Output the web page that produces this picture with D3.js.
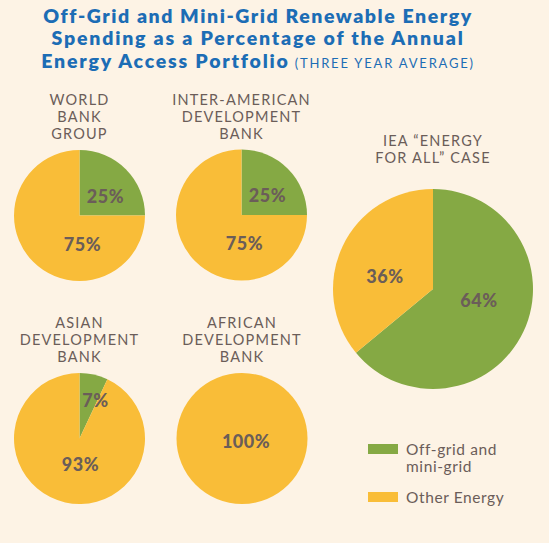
<!DOCTYPE html>
<html><head><meta charset="utf-8">
<script src="https://cdn.jsdelivr.net/npm/d3@7"></script>
<style>
html,body{margin:0;padding:0;background:#fdf3e5;}
svg{display:block;}
</style></head>
<body>
<svg id="chart" width="549" height="543"></svg>
<script>
const titleLines = ["Off-Grid and Mini-Grid Renewable Energy", "Spending as a Percentage of the Annual", "Energy Access Portfolio"];
const titleSuffix = "(THREE YEAR AVERAGE)";
const institutions = ["World Bank Group", "Inter-American Development Bank", "Asian Development Bank", "African Development Bank", "IEA \u201cEnergy for All\u201d Case"];
const institutionLabels = [["WORLD","BANK","GROUP"],["INTER-AMERICAN","DEVELOPMENT","BANK"],["ASIAN","DEVELOPMENT","BANK"],["AFRICAN","DEVELOPMENT","BANK"],["IEA \u201cENERGY","FOR ALL\u201d CASE"]];
const offGridValues = [25, 25, 7, 0, 64];
const otherEnergyValues = [75, 75, 93, 100, 36];
const seriesNames = ["Off-grid and mini-grid", "Other Energy"];
const legendLabels = [["Off-grid and","mini-grid"],["Other Energy"]];

const colors = ["#85a944", "#f9bd38"];
const textColor = "#6b5d59";
const FONT = "Lato, 'Open Sans', sans-serif";

// layout (positions only)
const layout = [
  {cx:79.5, cy:215.5, r:65.5, labelY:105, labelPos:[[26,-20],[3,28]]},
  {cx:241.5, cy:215, r:65.5, labelY:105, labelPos:[[26,-20],[3,28]]},
  {cx:79.5, cy:438.5, r:65.5, labelY:328, labelPos:[[16,-39],[1,25]]},
  {cx:242, cy:438.5, r:65.5, labelY:328, labelPos:[[0,0],[4,2]]},
  {cx:433, cy:289, r:100, labelY:146, labelPos:[[46,11],[-48,-13]]}
];

const svg = d3.select("#chart");
svg.append("rect").attr("width",549).attr("height",543).attr("fill","#fdf3e5");

// title
const title = svg.append("g").attr("font-family",FONT).attr("fill","#1c6db5").attr("text-anchor","middle");
const titleBaselines = [23, 45, 68];
const titleWidths = [429, 413, 428];
titleLines.forEach((t,i)=>{
  const tx = title.append("text").attr("x",258).attr("y",titleBaselines[i]).attr("font-size",19.5).attr("font-weight",800);
  tx.append("tspan").text(t);
  if(i===2){
    tx.append("tspan").attr("font-size",13).attr("font-weight",400).attr("dx",5).text(titleSuffix);
  }
  const node = tx.node();
  const w = node.getComputedTextLength();
  const n = (t + (i===2 ? titleSuffix : "")).length;
  const ls = (titleWidths[i]-w)/n;
  tx.attr("letter-spacing", ls);
});

const pie = d3.pie().sort(null).value(d=>d);
institutions.forEach((name,i)=>{
  const L = layout[i];
  const g = svg.append("g").attr("transform",`translate(${L.cx},${L.cy})`);
  const vals = [offGridValues[i], otherEnergyValues[i]];
  const arc = d3.arc().innerRadius(0).outerRadius(L.r);
  const arcs = pie(vals);
  g.selectAll("path").data(arcs).join("path")
    .attr("d",arc).attr("fill",(d,j)=>colors[j]);
  arcs.forEach((a,j)=>{
    if(a.data<=0) return;
    g.append("text").attr("x",L.labelPos[j][0]).attr("y",L.labelPos[j][1])
      .attr("text-anchor","middle").attr("dominant-baseline","central")
      .attr("font-family",FONT).attr("font-weight",900)
      .attr("font-size",18).attr("letter-spacing",0.5).attr("fill",textColor).text(a.data+"%");
  });
  const lab = svg.append("g").attr("font-family",FONT).attr("font-size",14.5)
    .attr("fill",textColor).attr("text-anchor","middle").attr("letter-spacing",1.2);
  institutionLabels[i].forEach((ln,k)=>{
    lab.append("text").attr("x",L.cx).attr("y",L.labelY + k*17).text(ln);
  });
});

// legend
const legend = svg.append("g").attr("font-family",FONT).attr("font-size",15.5).attr("letter-spacing",0.6).attr("fill",textColor);
const legendY = [444, 492];
seriesNames.forEach((s,i)=>{
  legend.append("rect").attr("x",368).attr("y",legendY[i]).attr("width",30).attr("height",10).attr("fill",colors[i]);
  legendLabels[i].forEach((ln,k)=>{
    legend.append("text").attr("x",406).attr("y",legendY[i]+11+k*17).text(ln);
  });
});
</script>
</body></html>
